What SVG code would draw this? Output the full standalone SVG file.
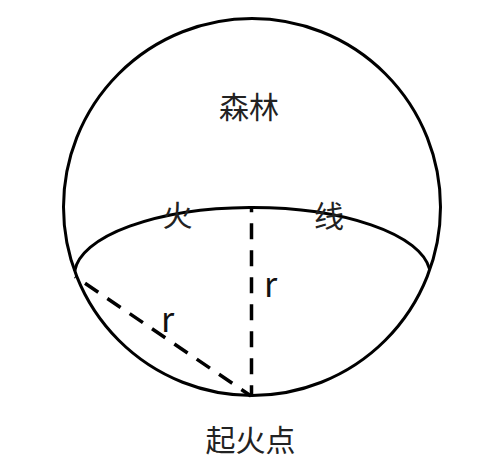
<svg xmlns="http://www.w3.org/2000/svg" width="483" height="458" viewBox="0 0 483 458">
<style>
.ln{fill:none;stroke:#000;stroke-width:3}
.dash{fill:none;stroke:#000;stroke-width:3.5;stroke-dasharray:16 11}
.t{font-family:"Noto Sans CJK SC","Noto Sans",sans-serif;font-size:30px;fill:#222;text-anchor:middle}
.r{font-family:"Noto Sans CJK SC","Noto Sans",sans-serif;font-size:34px;fill:#111;text-anchor:middle}
</style>
<rect width="483" height="458" fill="#fff"/>
<g id="forest">
<circle class="ln" cx="252" cy="207" r="188.5"/>
<text class="t" x="249" y="117.5">森林</text>
</g>
<g id="fireline">
<path class="ln" d="M74.7,271 A178,68 0 0 1 429.5,269"/>
<text class="t" x="177.5" y="225.6">火</text>
<text class="t" x="329" y="226.5">线</text>
</g>
<g id="ignition">
<text class="t" x="250.5" y="450.5">起火点</text>
</g>
<g id="connectors">
<line class="dash" x1="251.5" y1="208" x2="251.5" y2="396" stroke-dashoffset="11.7"/>
<line class="dash" x1="75" y1="276.5" x2="251" y2="396" stroke-dashoffset="14.9"/>
<text class="r" x="270.5" y="297">r</text>
<text class="r" x="167.5" y="331.5">r</text>
</g>
</svg>
